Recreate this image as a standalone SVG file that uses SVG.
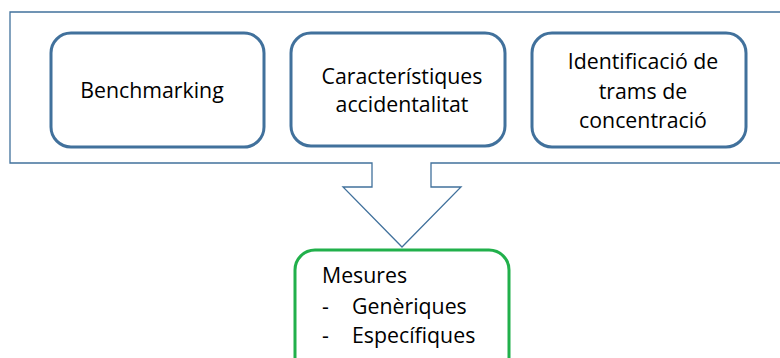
<svg xmlns="http://www.w3.org/2000/svg" width="780" height="358" viewBox="0 0 780 358">
<style>
.t{font-family:"Open Sans","Liberation Sans",sans-serif;font-size:21.3px;fill:#000}
.m{text-anchor:middle}
.box{fill:#fff;stroke:#41719C;stroke-width:3}
</style>
<rect width="780" height="358" fill="#fff"/>
<g id="connectors">
<path d="M790 12 H10 V163 H372 V187 H343 L402 247 L461 187 H431 V163 H790" fill="#fff" stroke="#41719C" stroke-width="1.3"/>
</g>
<g id="benchmarking">
<rect class="box" x="51" y="33" width="213" height="114" rx="20"/>
<text class="t m" x="152" y="98">Benchmarking</text>
</g>
<g id="caracteristiques">
<rect class="box" x="291" y="33" width="214" height="113" rx="20"/>
<text class="t m" x="402" y="84">Característiques</text>
<text class="t m" x="402" y="112">accidentalitat</text>
</g>
<g id="identificacio">
<rect class="box" x="532" y="33" width="214" height="114" rx="20"/>
<text class="t m" x="643" y="69">Identificació de</text>
<text class="t m" x="643" y="99">trams de</text>
<text class="t m" x="643" y="128">concentració</text>
</g>
<g id="mesures">
<rect x="295" y="250" width="214" height="130" rx="20" fill="#fff" stroke="#21B04B" stroke-width="3"/>
<text class="t" x="322" y="283">Mesures</text>
<text class="t" x="322" y="314">-</text>
<text class="t" x="352" y="314">Genèriques</text>
<text class="t" x="322" y="343">-</text>
<text class="t" x="352" y="343">Específiques</text>
</g>
</svg>
